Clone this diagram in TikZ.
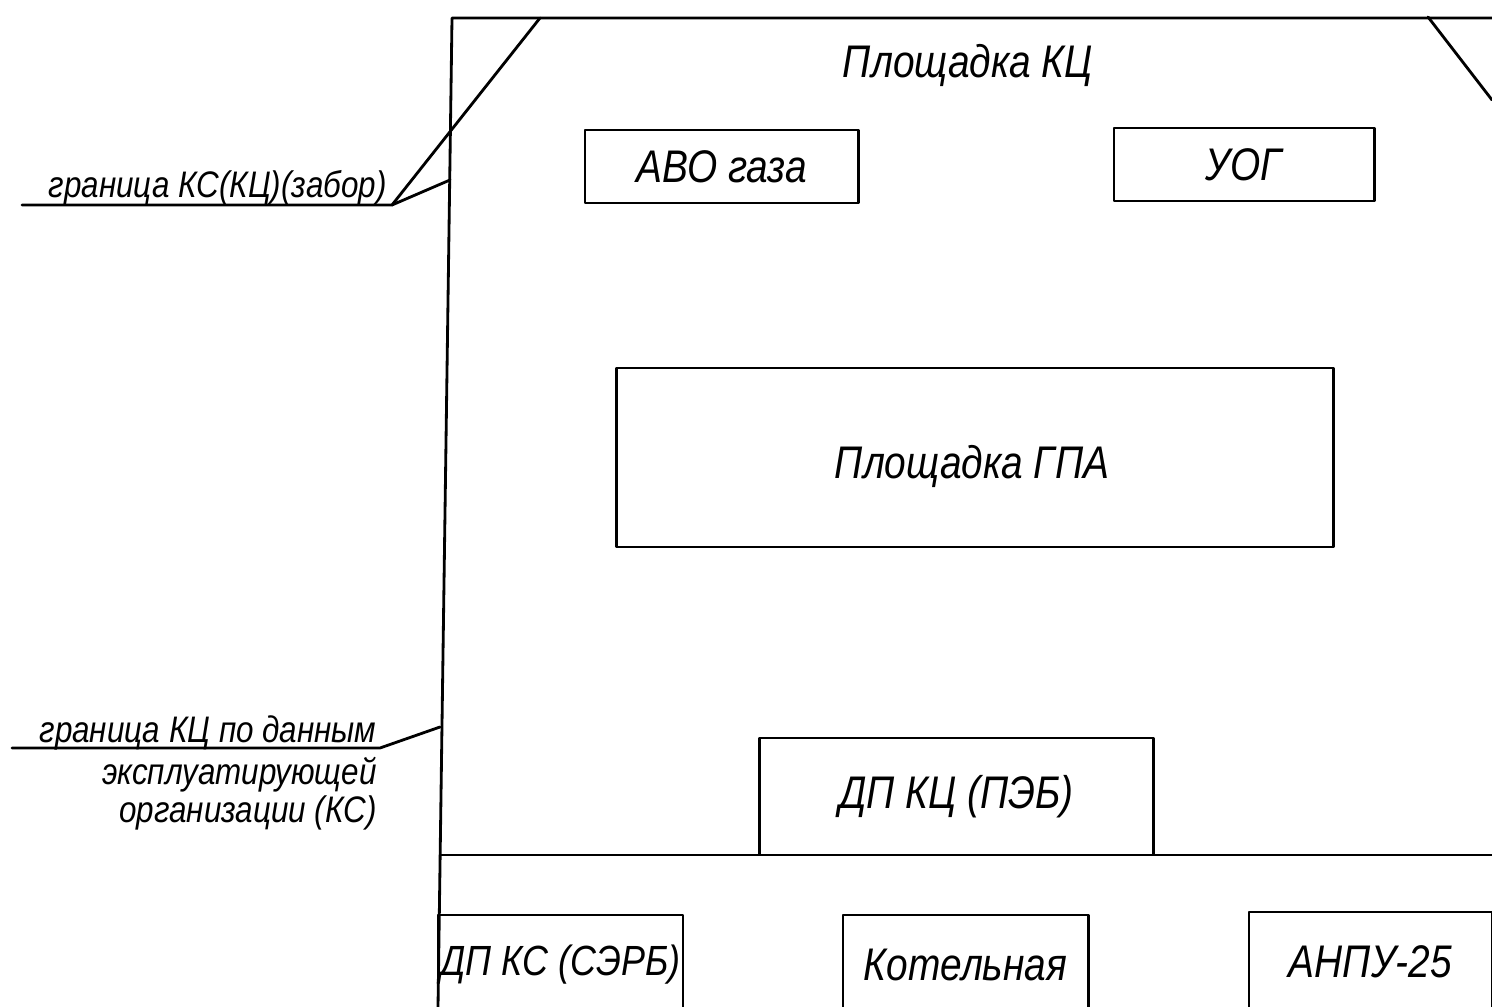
\documentclass[tikz,border=0pt]{standalone}
\usepackage{fontspec}
\setmainfont{Liberation Sans}[FakeStretch=0.85]
\begin{document}
\begin{tikzpicture}[x=0.01cm, y=-0.01cm, line join=round, line cap=round, line width=0.8pt]
\tikzset{
  bldg/.style={draw, rectangle, inner sep=0pt, outer sep=0pt, font=\itshape\fontsize{13}{15}\selectfont},
  zone/.style={inner sep=0pt, font=\itshape\fontsize{13}{15}\selectfont},
  leadtxt/.style={inner sep=0pt, align=right, font=\itshape\fontsize{10.5}{9.6}\selectfont}
}
\useasboundingbox (0,0) rectangle (1492,1007);
\clip (0,0) rectangle (1492,1007);
% границы площадки
\coordinate (tl) at (452,18);
\coordinate (bl) at (438,1007);
\coordinate (tr) at (1492,18);
\draw (bl) -- (tl) -- (tr);
\coordinate (ml) at (440,855);
\coordinate (mr) at (1492,855);
\draw (ml) -- (mr);
\coordinate (fr1) at (1428,17);
\coordinate (fr2) at (1492,100);
\draw (fr1) -- (fr2);
% площадка КЦ
\node[zone] (kc) at (968,65) {Площадка КЦ};
\node[bldg, minimum width=2.73cm, minimum height=0.73cm] (avo) at (721.5,166.5) {АВО газа};
\node[bldg, minimum width=2.60cm, minimum height=0.73cm] (uog) at (1244,164.5) {УОГ};
\node[bldg, minimum width=7.16cm, minimum height=1.79cm] (gpa) at (975,457.5) {};
\node[zone] (gpatxt) at (972,466) {Площадка ГПА};
\node[bldg, minimum width=3.93cm, minimum height=1.17cm] (dpkc) at (956.5,796.5) {ДП КЦ (ПЭБ)};
% площадка КС
\node[bldg, minimum width=2.45cm, minimum height=1.00cm, font=\itshape\fontsize{12}{14}\selectfont] (dpks) at (560.5,965) {ДП КС (СЭРБ)};
\node[bldg, minimum width=2.45cm, minimum height=1.00cm] (kotel) at (965.5,965) {Котельная};
\node[bldg, minimum width=2.43cm, minimum height=1.00cm] (anpu) at (1370.5,962) {АНПУ-25};
% выноски
\coordinate (v1a) at (22,205);
\coordinate (v1b) at (392,205);
\coordinate (v1c) at (540,18);
\coordinate (v1d) at (450,180);
\draw (v1a) -- (v1b) -- (v1c);
\draw (v1b) -- (v1d);
\node[leadtxt, anchor=base east] (zabor) at (388,198) {граница КС(КЦ)(забор)};
\coordinate (v2a) at (12,748);
\coordinate (v2b) at (380,748);
\coordinate (v2c) at (440,727);
\draw (v2a) -- (v2b) -- (v2c);
\node[leadtxt, anchor=base east] (ekspl1) at (378,742) {граница КЦ по данным};
\node[leadtxt, anchor=north east] (ekspl2) at (378,756) {эксплуатирующей\\организации (КС)};
\end{tikzpicture}
\end{document}
